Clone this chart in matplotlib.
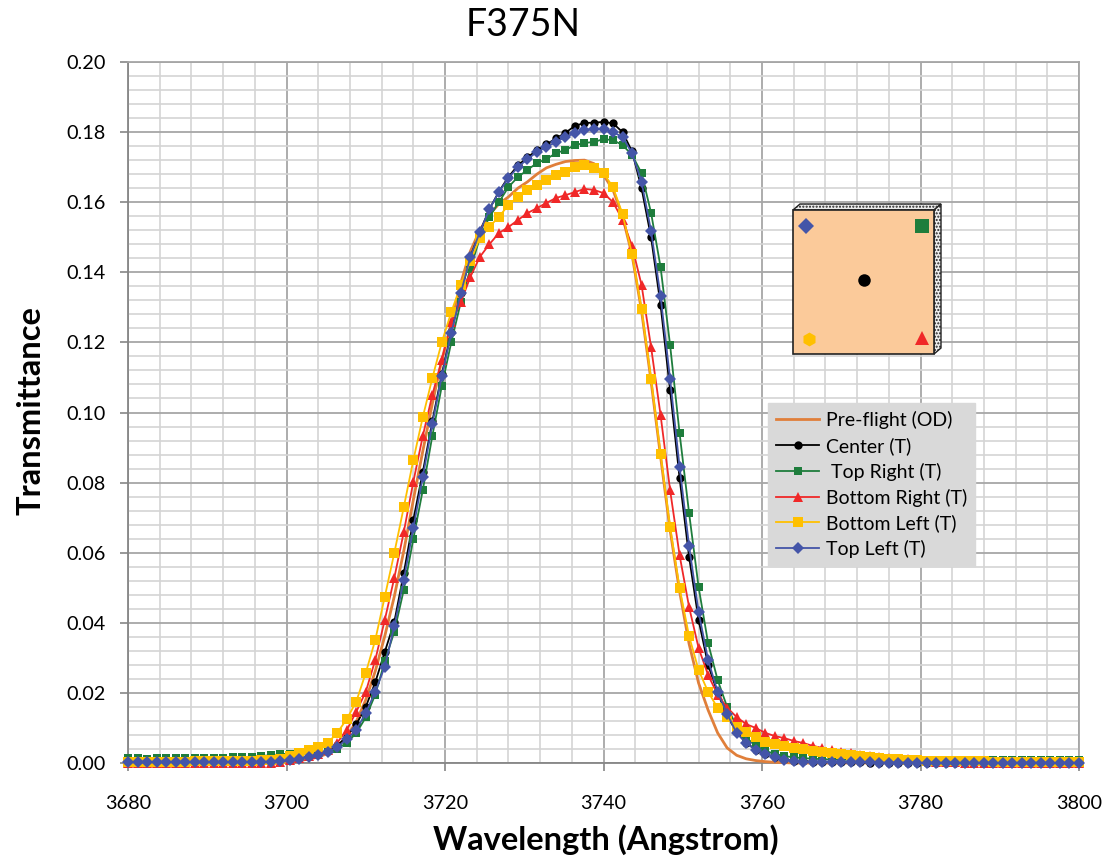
import numpy as np
import matplotlib
matplotlib.use("Agg")
import matplotlib.pyplot as plt
from matplotlib.patches import Polygon, Rectangle
from matplotlib.ticker import MultipleLocator, FormatStrFormatter

plt.rcParams['font.family'] = ['Lato', 'DejaVu Sans']

# wavelength sampling (Angstrom), 1.2 A steps from 3680 to 3800
wavelength = np.round(np.arange(3680.0, 3800.01, 1.2), 1)

preflight = [
    0.0000, 0.0000, 0.0000, 0.0000, 0.0000, 0.0000, 0.0000, 0.0000, 0.0000, 0.0000,
    0.0000, 0.0000, 0.0000, 0.0000, 0.0000, 0.0000, 0.0002, 0.0004, 0.0007, 0.0011,
    0.0017, 0.0027, 0.0045, 0.0075, 0.0118, 0.0180, 0.0262, 0.0362, 0.0475, 0.0605,
    0.0750, 0.0890, 0.1025, 0.1150, 0.1255, 0.1370, 0.1460, 0.1520, 0.1565, 0.1595,
    0.1615, 0.1640, 0.1658, 0.1680, 0.1698, 0.1708, 0.1716, 0.1719, 0.1720, 0.1710,
    0.1678, 0.1635, 0.1560, 0.1450, 0.1290, 0.1090, 0.0875, 0.0665, 0.0490, 0.0340,
    0.0228, 0.0151, 0.0086, 0.0043, 0.0022, 0.0012, 0.0007, 0.0004, 0.0002, 0.0001,
    0.0000, 0.0000, 0.0000, 0.0000, 0.0000, 0.0000, 0.0000, 0.0000, 0.0000, 0.0000,
    0.0000, 0.0000, 0.0000, 0.0000, 0.0000, 0.0000, 0.0000, 0.0000, 0.0000, 0.0000,
    0.0000, 0.0000, 0.0000, 0.0000, 0.0000, 0.0000, 0.0000, 0.0000, 0.0000, 0.0000,
    0.0000,
]

center = [
    0.0003, 0.0003, 0.0003, 0.0003, 0.0003, 0.0003, 0.0003, 0.0004, 0.0004, 0.0004,
    0.0005, 0.0005, 0.0006, 0.0006, 0.0007, 0.0008, 0.0010, 0.0012, 0.0015, 0.0019,
    0.0025, 0.0034, 0.0050, 0.0075, 0.0110, 0.0160, 0.0230, 0.0317, 0.0402, 0.0542,
    0.0693, 0.0830, 0.0975, 0.1110, 0.1230, 0.1340, 0.1445, 0.1515, 0.1580, 0.1630,
    0.1672, 0.1705, 0.1728, 0.1748, 0.1765, 0.1782, 0.1798, 0.1818, 0.1826, 0.1827,
    0.1829, 0.1825, 0.1800, 0.1745, 0.1640, 0.1500, 0.1307, 0.1064, 0.0813, 0.0588,
    0.0408, 0.0280, 0.0200, 0.0135, 0.0088, 0.0058, 0.0038, 0.0026, 0.0017, 0.0010,
    0.0007, 0.0005, 0.0004, 0.0003, 0.0003, 0.0002, 0.0002, 0.0002, 0.0001, 0.0001,
    0.0001, 0.0001, 0.0001, 0.0001, 0.0000, 0.0000, 0.0001, 0.0000, 0.0000, 0.0001,
    0.0000, 0.0000, 0.0001, 0.0000, 0.0000, 0.0000, 0.0001, 0.0000, 0.0000, 0.0000,
    0.0000,
]

top_right = [
    0.0013, 0.0013, 0.0012, 0.0013, 0.0013, 0.0014, 0.0013, 0.0014, 0.0014, 0.0015,
    0.0015, 0.0016, 0.0017, 0.0018, 0.0020, 0.0022, 0.0025, 0.0027, 0.0028, 0.0029,
    0.0031, 0.0034, 0.0040, 0.0058, 0.0085, 0.0130, 0.0195, 0.0290, 0.0374, 0.0494,
    0.0639, 0.0779, 0.0933, 0.1076, 0.1201, 0.1315, 0.1410, 0.1498, 0.1558, 0.1600,
    0.1643, 0.1672, 0.1692, 0.1712, 0.1723, 0.1740, 0.1749, 0.1763, 0.1769, 0.1772,
    0.1780, 0.1777, 0.1763, 0.1735, 0.1683, 0.1570, 0.1415, 0.1193, 0.0941, 0.0713,
    0.0502, 0.0342, 0.0237, 0.0160, 0.0105, 0.0072, 0.0050, 0.0035, 0.0026, 0.0020,
    0.0016, 0.0014, 0.0012, 0.0011, 0.0010, 0.0010, 0.0009, 0.0009, 0.0009, 0.0009,
    0.0008, 0.0009, 0.0008, 0.0008, 0.0009, 0.0008, 0.0008, 0.0009, 0.0008, 0.0008,
    0.0009, 0.0008, 0.0008, 0.0009, 0.0008, 0.0008, 0.0009, 0.0008, 0.0008, 0.0009,
    0.0008,
]

bottom_right = [
    0.0000, 0.0000, 0.0000, 0.0000, 0.0000, 0.0000, 0.0000, 0.0000, 0.0000, 0.0000,
    0.0000, 0.0000, 0.0000, 0.0000, 0.0000, 0.0000, 0.0003, 0.0008, 0.0014, 0.0020,
    0.0027, 0.0036, 0.0058, 0.0094, 0.0146, 0.0203, 0.0294, 0.0408, 0.0528, 0.0659,
    0.0802, 0.0933, 0.1050, 0.1150, 0.1258, 0.1315, 0.1387, 0.1444, 0.1480, 0.1512,
    0.1529, 0.1549, 0.1569, 0.1583, 0.1598, 0.1612, 0.1620, 0.1629, 0.1638, 0.1635,
    0.1626, 0.1600, 0.1550, 0.1475, 0.1364, 0.1187, 0.0993, 0.0779, 0.0593, 0.0445,
    0.0328, 0.0251, 0.0195, 0.0158, 0.0131, 0.0111, 0.0100, 0.0086, 0.0077, 0.0071,
    0.0063, 0.0057, 0.0049, 0.0043, 0.0037, 0.0032, 0.0028, 0.0024, 0.0020, 0.0017,
    0.0014, 0.0012, 0.0010, 0.0008, 0.0006, 0.0004, 0.0003, 0.0002, 0.0001, 0.0000,
    0.0000, 0.0000, 0.0000, 0.0000, 0.0000, 0.0000, 0.0000, 0.0000, 0.0000, 0.0000,
    0.0000,
]

bottom_left = [
    0.0004, 0.0004, 0.0003, 0.0004, 0.0004, 0.0004, 0.0004, 0.0005, 0.0005, 0.0005,
    0.0005, 0.0006, 0.0006, 0.0007, 0.0008, 0.0009, 0.0012, 0.0020, 0.0029, 0.0037,
    0.0046, 0.0057, 0.0086, 0.0125, 0.0175, 0.0257, 0.0351, 0.0474, 0.0599, 0.0730,
    0.0864, 0.0987, 0.1098, 0.1201, 0.1287, 0.1364, 0.1432, 0.1498, 0.1530, 0.1558,
    0.1592, 0.1615, 0.1635, 0.1649, 0.1663, 0.1678, 0.1686, 0.1700, 0.1706, 0.1698,
    0.1683, 0.1643, 0.1566, 0.1452, 0.1295, 0.1096, 0.0882, 0.0673, 0.0499, 0.0362,
    0.0265, 0.0203, 0.0157, 0.0131, 0.0103, 0.0088, 0.0074, 0.0060, 0.0054, 0.0048,
    0.0043, 0.0039, 0.0035, 0.0031, 0.0028, 0.0025, 0.0022, 0.0019, 0.0016, 0.0014,
    0.0012, 0.0010, 0.0009, 0.0008, 0.0007, 0.0006, 0.0006, 0.0005, 0.0005, 0.0005,
    0.0005, 0.0004, 0.0004, 0.0004, 0.0004, 0.0004, 0.0004, 0.0004, 0.0004, 0.0004,
    0.0004,
]

top_left = [
    0.0002, 0.0002, 0.0002, 0.0002, 0.0002, 0.0002, 0.0002, 0.0002, 0.0002, 0.0002,
    0.0002, 0.0002, 0.0003, 0.0003, 0.0003, 0.0004, 0.0005, 0.0008, 0.0012, 0.0017,
    0.0024, 0.0031, 0.0045, 0.0068, 0.0094, 0.0143, 0.0203, 0.0275, 0.0390, 0.0522,
    0.0670, 0.0816, 0.0967, 0.1104, 0.1227, 0.1341, 0.1444, 0.1515, 0.1580, 0.1629,
    0.1669, 0.1700, 0.1723, 0.1743, 0.1757, 0.1772, 0.1786, 0.1797, 0.1806, 0.1809,
    0.1809, 0.1800, 0.1786, 0.1740, 0.1658, 0.1518, 0.1332, 0.1096, 0.0845, 0.0619,
    0.0431, 0.0294, 0.0203, 0.0140, 0.0085, 0.0057, 0.0037, 0.0026, 0.0017, 0.0009,
    0.0006, 0.0004, 0.0003, 0.0003, 0.0003, 0.0002, 0.0002, 0.0002, 0.0002, 0.0001,
    0.0001, 0.0001, 0.0001, 0.0000, 0.0000, 0.0000, 0.0001, 0.0001, 0.0000, 0.0000,
    0.0001, 0.0000, 0.0000, 0.0000, 0.0001, 0.0001, 0.0001, 0.0000, 0.0000, 0.0001,
    0.0000,
]

series = [
    ("Center (T)", center, "#000000", "o", 6.0),
    (" Top Right (T)", top_right, "#1E7D3C", "s", 6.0),
    ("Bottom Right (T)", bottom_right, "#F02828", "^", 7.5),
    ("Bottom Left (T)", bottom_left, "#FFC000", "s", 7.5),
    ("Top Left (T)", top_left, "#4455A8", "D", 6.3),
]

fig = plt.figure(figsize=(11.08, 8.56), dpi=100)
ax = fig.add_axes([128 / 1108, 93 / 856, 951 / 1108, 701 / 856])

ax.plot(wavelength, preflight, color="#E07F3A", lw=2.0, label="Pre-flight (OD)", clip_on=False, zorder=3)
for name, vals, col, mk, ms in series:
    ax.plot(wavelength, vals, color=col, lw=1.3, marker=mk, markersize=ms,
            markeredgewidth=0, label=name, clip_on=False, zorder=3)

ax.set_xlim(3680, 3800)
ax.set_ylim(0, 0.20)
ax.xaxis.set_major_locator(MultipleLocator(20))
ax.xaxis.set_minor_locator(MultipleLocator(4))
ax.yaxis.set_major_locator(MultipleLocator(0.02))
ax.yaxis.set_minor_locator(MultipleLocator(0.004))
ax.yaxis.set_major_formatter(FormatStrFormatter("%.2f"))

ax.grid(which="minor", color="#D4D4D4", lw=1.2, zorder=0)
ax.grid(which="major", color="#A6A6A6", lw=1.3, zorder=0)
ax.set_axisbelow(True)
for sp in ax.spines.values():
    sp.set_color("#A6A6A6")
    sp.set_linewidth(1.3)
ax.spines["left"].set_color("#868686")
ax.spines["bottom"].set_color("#868686")
ax.tick_params(which="major", direction="out", length=6, width=1.2, color="#868686",
               labelsize=14.3)
ax.tick_params(axis="x", pad=17)
ax.tick_params(axis="y", pad=10)
ax.tick_params(which="minor", length=0)

fig.text(523 / 1108, 1 - 25 / 856, "F375N", fontsize=27, ha="center", va="center")
ax.set_xlabel("Wavelength (Angstrom)", fontsize=23.5, fontweight="bold")
ax.set_ylabel("Transmittance", fontsize=23.5, fontweight="bold")
ax.xaxis.set_label_coords((606 - 128) / 951, (763 - 824) / 701)
ax.yaxis.set_label_coords((46 - 128) / 951, (763 - 411) / 701)

leg = ax.legend(loc="upper left", bbox_to_anchor=(0.673, 0.5136), fontsize=14,
                numpoints=1, handlelength=2.2, handletextpad=0.35, labelspacing=0.40,
                borderpad=0.42, borderaxespad=0, frameon=True, fancybox=False)
leg.get_frame().set_facecolor("#D9D9D9")
leg.get_frame().set_edgecolor("#D9D9D9")
leg.get_frame().set_alpha(1)

# filter sketch: peach square with bevelled top and right edges
ins = fig.add_axes([785 / 1108, (856 - 362) / 856, 165 / 1108, 165 / 856])
ins.set_xlim(785, 950)
ins.set_ylim(362, 197)
ins.axis("off")
ins.add_patch(Polygon([(793, 210), (800, 204), (941, 204), (934, 210)], closed=True,
                      facecolor="#EDEDED", edgecolor="#222222", lw=1.0, hatch="....."))
ins.add_patch(Polygon([(934, 210), (941, 204), (941, 348), (934, 354)], closed=True,
                      facecolor="#EDEDED", edgecolor="#222222", lw=1.0, hatch="....."))
ins.add_patch(Rectangle((793, 210), 141, 144, facecolor="#FBCA9A", edgecolor="#222222", lw=1.2))
ins.plot([806], [226], marker="D", color="#4455A8", markersize=8, markeredgewidth=0)
ins.plot([922], [226], marker="s", color="#1E7D3C", markersize=10, markeredgewidth=0)
ins.plot([864], [280], marker="o", color="#000000", markersize=9, markeredgewidth=0)
ins.plot([809], [339], marker="h", color="#FFC000", markersize=10, markeredgewidth=0)
ins.plot([922], [338], marker="^", color="#F02828", markersize=10, markeredgewidth=0)

fig.savefig("out.png", dpi=100)
